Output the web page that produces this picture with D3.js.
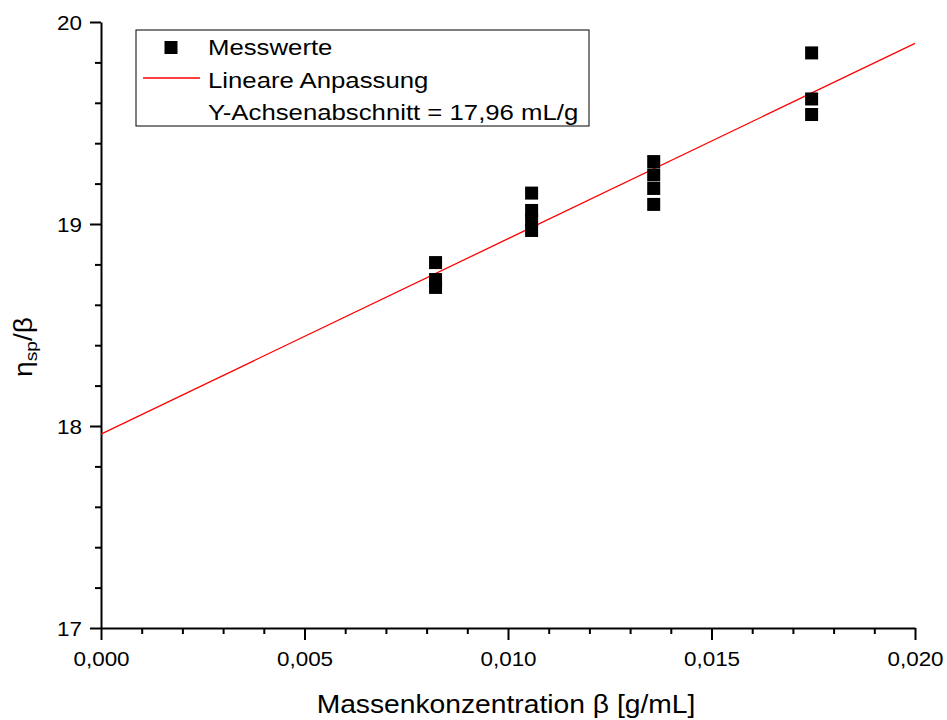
<!DOCTYPE html>
<html>
<head>
<meta charset="utf-8">
<script src="https://cdn.jsdelivr.net/npm/d3@7"></script>
<style>
  html, body { margin: 0; padding: 0; background: #fff; }
  svg { display: block; font-family: Arial, "Liberation Sans", sans-serif; }
</style>
</head>
<body>
<svg id="chart" width="947" height="720"></svg>
<script>
// ---- data ----
const concentrations = [0.00822, 0.01058, 0.01358, 0.01746];
const groupValues = [
  [18.809, 18.725, 18.686],
  [19.153, 19.067, 19.020, 18.968],
  [19.309, 19.243, 19.176, 19.097],
  [19.847, 19.619, 19.542]
];
const fitIntercept = 17.96;
const fitSlope = 96.7;
const xTicks = [0, 0.005, 0.010, 0.015, 0.020];
const xTickLabels = ["0,000", "0,005", "0,010", "0,015", "0,020"];
const yTicks = [17, 18, 19, 20];
const yTickLabels = ["17", "18", "19", "20"];
const legendLabels = ["Messwerte", "Lineare Anpassung", "Y-Achsenabschnitt = 17,96 mL/g"];
const xTitle = "Massenkonzentration β [g/mL]";

const points = [];
concentrations.forEach((c, i) => groupValues[i].forEach(v => points.push({x: c, y: v})));

// ---- layout ----
const svg = d3.select("#chart");
const mLeft = 101, mRight = 915, mTop = 22, mBottom = 628;
const x = d3.scaleLinear().domain([0, 0.020]).range([mLeft, mRight]);
const y = d3.scaleLinear().domain([17, 20]).range([mBottom, mTop]);

// minor ticks
const xMinor = d3.range(0, 0.0201, 0.001).filter(v => !xTicks.some(t => Math.abs(t - v) < 1e-9));
const yMinor = d3.range(17, 20.001, 0.2).filter(v => !yTicks.some(t => Math.abs(t - v) < 1e-6));

const gx = svg.append("g").attr("transform", `translate(0,${mBottom})`);
gx.call(d3.axisBottom(x).tickValues(xMinor).tickSize(6).tickFormat(""))
  .call(g => g.select(".domain").remove());
const gx2 = svg.append("g").attr("transform", `translate(0,${mBottom})`);
gx2.call(d3.axisBottom(x).tickValues(xTicks).tickSize(12).tickSizeOuter(0).tickPadding(10)
  .tickFormat((d, i) => xTickLabels[i]));

const gy = svg.append("g").attr("transform", `translate(${mLeft},0)`);
gy.call(d3.axisLeft(y).tickValues(yMinor).tickSize(6).tickFormat(""))
  .call(g => g.select(".domain").remove());
const gy2 = svg.append("g").attr("transform", `translate(${mLeft},0)`);
gy2.call(d3.axisLeft(y).tickValues(yTicks).tickSize(11).tickSizeOuter(0).tickPadding(0)
  .tickFormat((d, i) => yTickLabels[i]));

svg.selectAll(".domain, .tick line").attr("stroke", "#000").attr("stroke-width", 2);
svg.selectAll(".tick text").attr("font-size", 21).attr("fill", "#000")
  .attr("font-family", "Arial, 'Liberation Sans', sans-serif");
gx2.selectAll(".tick text").attr("dy", "0.74em").attr("transform", "scale(1.07,1)");
gy2.selectAll(".tick text").attr("x", 0).attr("dy", "0.36em")
  .attr("transform", "translate(-19,0) scale(1.07,1)");

// fit line
const line = d3.line().x(d => x(d)).y(d => y(fitIntercept + fitSlope * d));
svg.append("path").datum([0, 0.020]).attr("d", line)
  .attr("fill", "none").attr("stroke", "#ff0000").attr("stroke-width", 1.3);

// points
const s = 13;
svg.append("g").selectAll("rect").data(points).join("rect")
  .attr("x", d => x(d.x) - s / 2).attr("y", d => y(d.y) - s / 2)
  .attr("width", s).attr("height", s).attr("fill", "#000");

// axis titles
svg.append("g").attr("transform", `translate(${(mLeft + mRight) / 2 - 2},713) scale(1.13,1)`)
  .append("text").attr("text-anchor", "middle").attr("font-size", 25).attr("fill", "#000").text(xTitle);

const yt = svg.append("g").attr("transform", "translate(32,347) rotate(-90) scale(1.13,1)")
  .append("text").attr("text-anchor", "middle").attr("font-size", 25).attr("fill", "#000");
yt.append("tspan").text("η");
yt.append("tspan").attr("font-size", 17).attr("dy", 5).text("sp");
yt.append("tspan").attr("dy", -5).text("/β");

// legend
const lg = svg.append("g");
lg.append("rect").attr("x", 136).attr("y", 30).attr("width", 453).attr("height", 96)
  .attr("fill", "#fff").attr("stroke", "#000").attr("stroke-width", 1);
lg.append("rect").attr("x", 171 - 6.5).attr("y", 47.5 - 6.5).attr("width", 13).attr("height", 13).attr("fill", "#000");
lg.append("line").attr("x1", 143).attr("x2", 200).attr("y1", 78).attr("y2", 78)
  .attr("stroke", "#ff0000").attr("stroke-width", 1.3);
lg.selectAll("g.lab").data(legendLabels).join("g").attr("class", "lab")
  .attr("transform", (d, i) => `translate(208,${55 + i * 32.5}) scale(1.17,1)`)
  .append("text").attr("font-size", 22).attr("fill", "#000").text(d => d);
</script>
</body>
</html>
